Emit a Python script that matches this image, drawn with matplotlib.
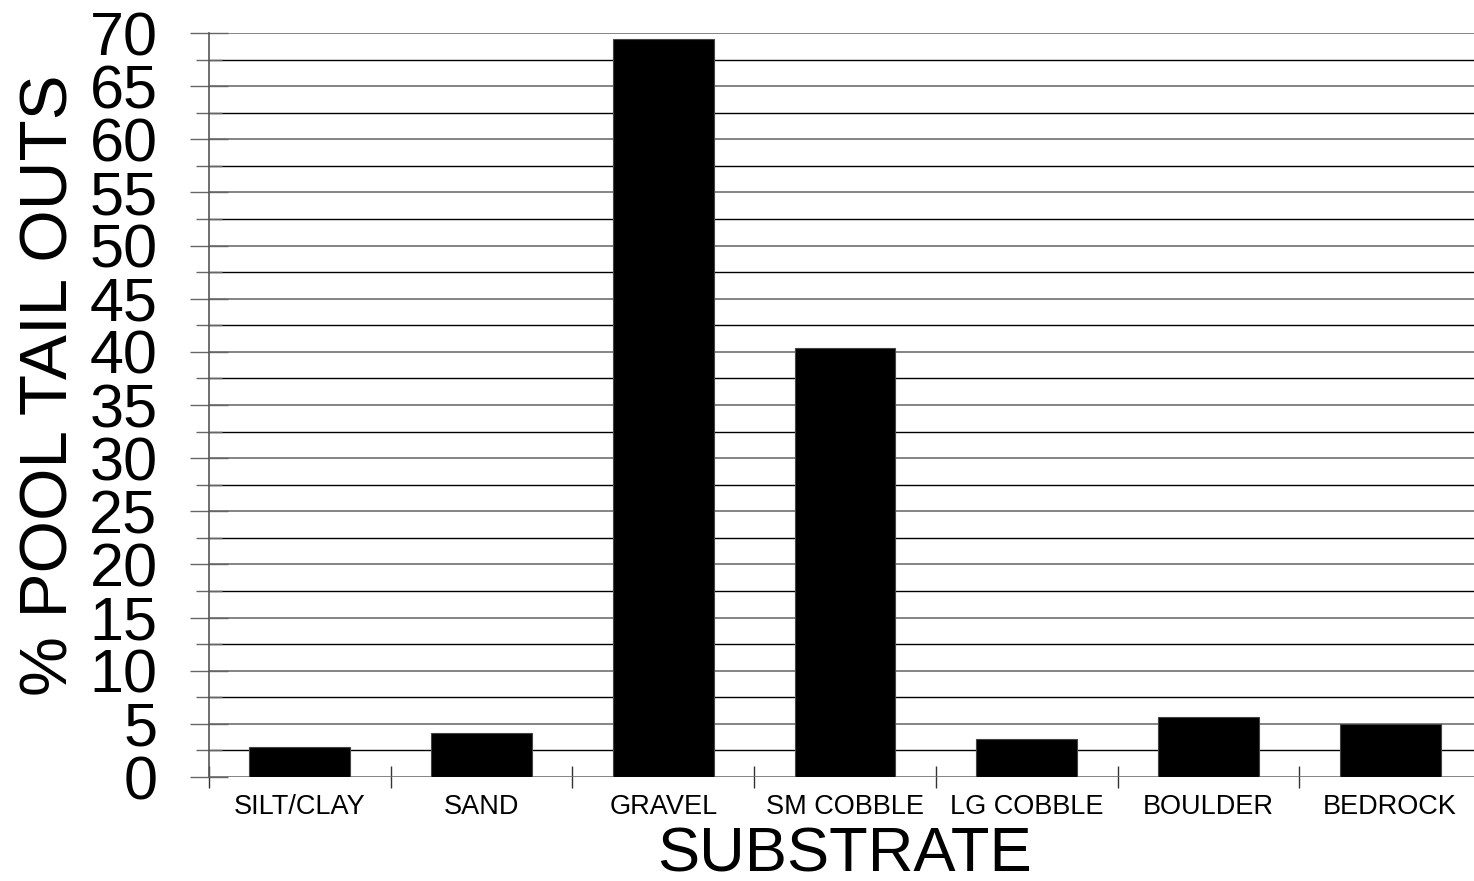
import numpy as np
import matplotlib.pyplot as plt
from matplotlib.ticker import MultipleLocator, FixedLocator, NullFormatter

plt.rcParams['font.family'] = ['Liberation Sans', 'DejaVu Sans']

substrates = ["SILT/CLAY", "SAND", "GRAVEL", "SM COBBLE", "LG COBBLE", "BOULDER", "BEDROCK"]
pct_tail_outs = [2.85, 4.15, 69.4, 40.4, 3.6, 5.6, 5.0]

fig = plt.figure(figsize=(14.74, 8.81), dpi=100)
ax = fig.add_axes([209 / 1474, 1 - 777 / 881, 1272 / 1474, 744 / 881])

x = np.arange(len(substrates))
ax.bar(x, pct_tail_outs, width=0.555, color="black", edgecolor="#444444", linewidth=0.8, zorder=3)

ax.set_xlim(-0.5, 6.5)
ax.set_ylim(0, 70)

# y grid every 2.5, labels every 5
ax.yaxis.set_major_locator(MultipleLocator(5))
ax.yaxis.set_minor_locator(MultipleLocator(2.5))
ax.grid(axis="y", which="major", color="#707070", linewidth=1.2, zorder=1)
ax.grid(axis="y", which="minor", color="black", linewidth=1.0, zorder=1)
ax.tick_params(axis="y", which="major", direction="inout", length=28, width=1,
               color="#666666", labelsize=44, pad=23)
ax.tick_params(axis="y", which="minor", direction="inout", length=19, width=1,
               color="#666666")

# x ticks at category boundaries, labels in between
ax.xaxis.set_major_locator(FixedLocator(x))
ax.set_xticklabels(substrates)
ax.xaxis.set_minor_locator(FixedLocator(np.arange(-0.5, 6.0, 1.0)))
ax.xaxis.set_minor_formatter(NullFormatter())
ax.tick_params(axis="x", which="major", length=0, labelsize=19.5, pad=12)
ax.tick_params(axis="x", which="minor", direction="inout", length=16, width=1, color="#333333")

for side in ["top", "right", "bottom"]:
    ax.spines[side].set_visible(False)
ax.spines["left"].set_color("#555555")
ax.spines["left"].set_linewidth(1.2)

ax.set_ylabel("% POOL TAIL OUTS", fontsize=48.5, labelpad=6)
ax.yaxis.label.set_y(0.527)
ax.set_xlabel("SUBSTRATE", fontsize=45.5, labelpad=4)

fig.savefig("out.png", dpi=100)
